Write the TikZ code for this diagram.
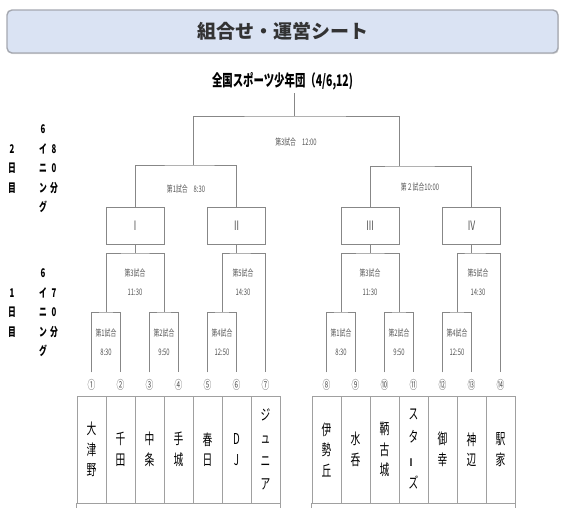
\documentclass[tikz,border=0pt]{standalone}
\usepackage{fontspec}
\usepackage{graphicx}
\setmainfont{Noto Sans CJK JP}
\newfontfamily\narrowjp{Noto Sans CJK JP}[FakeStretch=0.65]
\usetikzlibrary{shadows}
\definecolor{sheet_blue}{RGB}{218,227,243}
\definecolor{sheet_edge}{RGB}{165,168,176}
\definecolor{bracket_gray}{RGB}{135,135,135}
\definecolor{cell_gray}{RGB}{160,160,160}
\definecolor{label_gray}{RGB}{85,85,85}
\newcommand{\tatebar}{\rotatebox[origin=c]{90}{ー}}

\begin{document}
\begin{tikzpicture}[x=1pt, y=-1pt,
    bracket/.style={draw=bracket_gray, line width=0.6pt},
    stagebox/.style={draw=bracket_gray, line width=0.6pt, minimum width=58pt, minimum height=37pt, inner sep=0pt, text=label_gray, font=\narrowjp\fontsize{13}{13}\selectfont},
    gamelabel/.style={text=label_gray, align=center, inner sep=0pt, font=\narrowjp\fontsize{9}{19}\selectfont},
    seed/.style={text=label_gray, inner sep=0pt, outer sep=7pt, font=\narrowjp\fontsize{12}{12}\selectfont},
    team/.style={draw=cell_gray, line width=0.6pt, minimum width=29pt, minimum height=107pt, inner sep=0pt, align=center, font=\narrowjp\fontsize{15}{20.5}\selectfont},
    daylabel/.style={align=center, inner sep=0pt, font=\narrowjp\bfseries\fontsize{12}{19.5}\selectfont}]
    \useasboundingbox (0,0) rectangle (568,507);

    % Title
    \node[draw=sheet_edge, line width=1.4pt, fill=sheet_blue, rounded corners=5pt, drop shadow={opacity=0.25, shadow xshift=0.8pt, shadow yshift=-1.2pt}, minimum width=551pt, minimum height=43pt, text=black!80, font=\bfseries\fontsize{19}{19}\selectfont] (title) at (282.5,31.5) {組合せ・運営シート};
    \node[font=\narrowjp\bfseries\fontsize{16}{16}\selectfont] (event) at (282.5,81) {全国スポーツ少年団（4/6,12)};

    % Day labels
    \node[daylabel] (day2) at (12,169) {2\\日\\目};
    \node[daylabel] (inn2) at (43,169) {6\\イ\\ニ\\ン\\グ};
    \node[daylabel] (min2) at (54,169) {8\\0\\分};
    \node[daylabel] (day1) at (12,313) {1\\日\\目};
    \node[daylabel] (inn1) at (43,313) {6\\イ\\ニ\\ン\\グ};
    \node[daylabel] (min1) at (54,313) {7\\0\\分};

    % Teams
    \foreach \team [count=\i] in {{大\\津\\野},{千\\田},{中\\条},{手\\城},{春\\日},{D\\J},{ジ\\[2.5pt]ュ\\[2.5pt]ニ\\[2.5pt]ア}}
        \node[team] (t\i) at ({62.5+29*\i},449.5) {\team};
    \foreach \team [count=\i from 8] in {{伊\\勢\\丘},{水\\呑},{鞆\\古\\城},{ス\\[2.5pt]タ\\[2.5pt]\tatebar\\[2.5pt]ズ},{御\\幸},{神\\辺},{駅\\家}}
        \node[team] (t\i) at ({94.5+29*\i},449.5) {\team};
    \draw[draw=cell_gray, line width=0.6pt] (t1.south west) -- ++(0,5) (t7.south east) -- ++(0,5);
    \draw[draw=cell_gray, line width=0.6pt] (t8.south west) -- ++(0,5) (t14.south east) -- ++(0,5);

    % Seeds
    \foreach \i/\sym in {1/①,2/②,3/③,4/④,5/⑤,6/⑥,7/⑦}
        \node[seed] (n\i) at ({62.5+29*\i},385) {\sym};
    \foreach \i/\sym in {8/⑧,9/⑨,10/⑩,11/⑪,12/⑫,13/⑬,14/⑭}
        \node[seed] (n\i) at ({94.5+29*\i},385) {\sym};

    % Blocks
    \node[stagebox] (b1) at (135,225.5) {Ⅰ};
    \node[stagebox] (b2) at (236.5,225.5) {Ⅱ};
    \node[stagebox] (b3) at (370,225.5) {Ⅲ};
    \node[stagebox] (b4) at (471.5,225.5) {Ⅳ};

    % Junctions
    \coordinate (top) at (294,116);
    \coordinate (semiL) at (193,165);
    \coordinate (semiR) at (399,166);
    \coordinate (q1L) at (106,312);
    \coordinate (q2L) at (164,312);
    \coordinate (q3L) at (135,253);
    \coordinate (q4L) at (222,312);
    \coordinate (q5L) at (236.5,253);
    \coordinate (q1R) at (341,312);
    \coordinate (q2R) at (399,312);
    \coordinate (q3R) at (370,253);
    \coordinate (q4R) at (457,312);
    \coordinate (q5R) at (471.5,253);

    % Day 2 brackets
    \draw[bracket] (event.south -| top) -- (top);
    \draw[bracket] (semiL) |- (top) -| (semiR);
    \draw[bracket] (b1.north) |- (semiL) -| (b2.north);
    \draw[bracket] (b3.north) |- (semiR) -| (b4.north);

    % Day 1 brackets
    \draw[bracket] (n1.north) |- (q1L) -| (n2.north);
    \draw[bracket] (n3.north) |- (q2L) -| (n4.north);
    \draw[bracket] (q1L) |- (q3L) -| (q2L);
    \draw[bracket] (q3L) -- (b1.south);
    \draw[bracket] (n5.north) |- (q4L) -| (n6.north);
    \draw[bracket] (q4L) |- (q5L) -| (n7.north);
    \draw[bracket] (q5L) -- (b2.south);
    \draw[bracket] (n8.north) |- (q1R) -| (n9.north);
    \draw[bracket] (n10.north) |- (q2R) -| (n11.north);
    \draw[bracket] (q1R) |- (q3R) -| (q2R);
    \draw[bracket] (q3R) -- (b3.south);
    \draw[bracket] (n12.north) |- (q4R) -| (n13.north);
    \draw[bracket] (q4R) |- (q5R) -| (n14.north);
    \draw[bracket] (q5R) -- (b4.south);

    % Game labels
    \node[gamelabel] (g6) at (296,142) {第3試合\hspace{6pt}12:00};
    \node[gamelabel] (g5L) at (186,189) {第1試合\hspace{6pt}8:30};
    \node[gamelabel] (g5R) at (420,187) {第２試合10:00};
    \node[gamelabel] (g3L) at (135,282.5) {第3試合\\11:30};
    \node[gamelabel] (g1L) at (106,342) {第1試合\\8:30};
    \node[gamelabel] (g2L) at (164,342) {第2試合\\9:50};
    \node[gamelabel] (g5Lb) at (243,282.5) {第5試合\\14:30};
    \node[gamelabel] (g4L) at (222,342) {第4試合\\12:50};
    \node[gamelabel] (g3R) at (370,282.5) {第3試合\\11:30};
    \node[gamelabel] (g1R) at (341,342) {第1試合\\8:30};
    \node[gamelabel] (g2R) at (399,342) {第2試合\\9:50};
    \node[gamelabel] (g5Rb) at (478,282.5) {第5試合\\14:30};
    \node[gamelabel] (g4R) at (457,342) {第4試合\\12:50};
\end{tikzpicture}
\end{document}
